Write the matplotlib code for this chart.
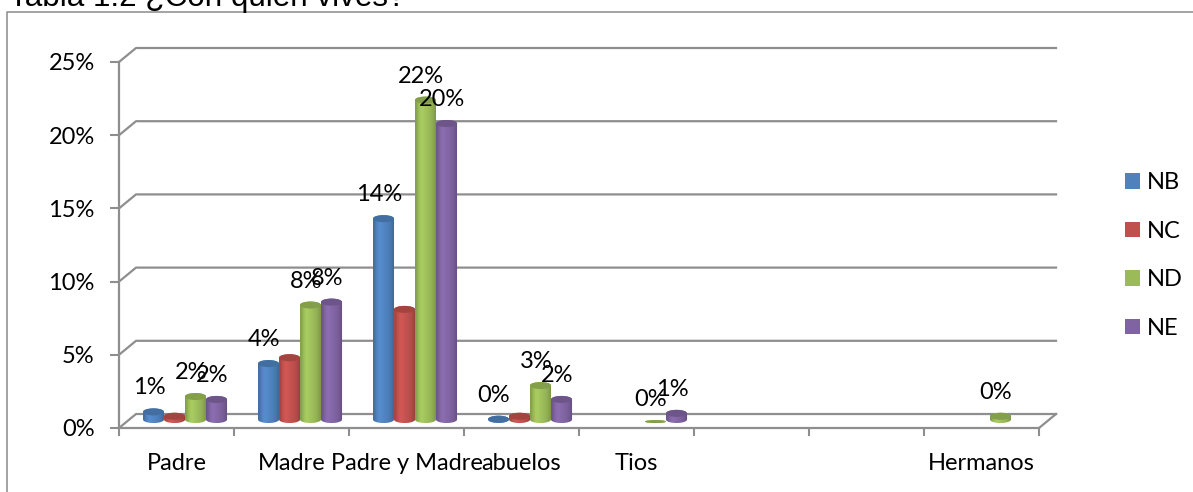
import numpy as np
import matplotlib
matplotlib.use('Agg')
import matplotlib.pyplot as plt
from matplotlib.patches import Ellipse, Patch, Polygon
from matplotlib.colors import to_rgb
from matplotlib.lines import Line2D

categories = ['Padre', 'Madre', 'Padre y Madre', 'abuelos', 'Tios', '', '', 'Hermanos']
series = ['NB', 'NC', 'ND', 'NE']
nb = [1.0, 4.3, 14.2, 0.5, 0, 0, 0, 0]
nc = [0.7, 4.7, 8.0, 0.7, 0, 0, 0, 0]
nd = [2.05, 8.3, 22.3, 2.8, 0.2, 0, 0, 0.7]
ne = [1.85, 8.5, 20.7, 1.85, 0.9, 0, 0, 0]
nb_labels = ['1%', '4%', '14%', '0%', '', '', '', '']
nc_labels = ['', '', '', '', '', '', '', '']
nd_labels = ['2%', '8%', '22%', '3%', '0%', '', '', '0%']
ne_labels = ['2%', '8%', '20%', '2%', '1%', '', '', '']
colors = ['#4F81BD', '#C0504D', '#9BBB59', '#8064A2']
yticks = [0, 5, 10, 15, 20, 25]

W, H = 1193, 492
FS = 17
plt.rcParams['font.family'] = ['Lato', 'DejaVu Sans']
GREY = '#8E8E8E'

fig = plt.figure(figsize=(W / 100, H / 100), dpi=100)
ax = fig.add_axes([119 / W, (H - 428) / H, 920 / W, 366 / H])
ax.patch.set_visible(False)

# depth of the fake 3d box, in data units
depth_x, depth_y = 0.148, 0.956
bar_w = 0.183
base = 0.34
ell = 0.24


def draw_cylinder(x, v, color):
    hh = min(ell, v / 2)
    y0 = base + hh
    y1 = base + v - hh
    t = np.linspace(np.pi, 2 * np.pi, 30)
    xs = x + bar_w / 2 * np.cos(t)
    low = y0 + hh * np.sin(t)
    high = y1 - hh * np.sin(t)
    outline = np.vstack([np.column_stack([xs, low]), np.column_stack([xs[::-1], high[::-1]])])
    poly = Polygon(outline, closed=True, transform=ax.transData, fc='none', ec='none')
    ax.add_patch(poly)
    shade = np.array([0.86, 0.98, 1.07, 1.09, 1.05, 1.02, 0.99, 0.95, 0.89, 0.8])
    rgb = np.clip(np.array(to_rgb(color))[None, None, :] * shade[None, :, None], 0, 1)
    im = ax.imshow(rgb, extent=(x - bar_w / 2, x + bar_w / 2, base, base + v), aspect='auto',
                   interpolation='bilinear', zorder=3)
    im.set_clip_path(poly)
    top = np.clip(np.array(to_rgb(color)) * 0.85, 0, 1)
    ax.add_patch(Ellipse((x, y1), bar_w, 2 * hh, fc=top, ec='none', zorder=4))


# back wall lines
for v in yticks:
    ax.add_line(Line2D([0, depth_x, 8 + depth_x], [v, v + depth_y, v + depth_y], color=GREY, lw=1.6,
                       clip_on=False, zorder=1))
ax.add_line(Line2D([8, 8 + depth_x], [0, depth_y], color=GREY, lw=1.6, clip_on=False, zorder=1))

values = [nb, nc, nd, ne]
labels = [nb_labels, nc_labels, nd_labels, ne_labels]
offsets = [-0.274, -0.091, 0.091, 0.274]
for vals, labs, col, off in zip(values, labels, colors, offsets):
    for i, (v, lab) in enumerate(zip(vals, labs)):
        x = i + 0.5 + depth_x / 2 + off
        if v > 0:
            draw_cylinder(x, v, col)
        if lab:
            ax.text(x - 0.04, base + v + 1.4, lab, ha='center', va='center', fontsize=FS,
                    color='black', zorder=6)

ax.set_xlim(0, 8)
ax.set_ylim(0, 25)
ax.set_yticks(yticks)
ax.set_yticklabels([f'{v}%' for v in yticks])
ax.set_xticks(range(9))
ax.set_xticklabels([])
ax.set_xticks(np.arange(8) + 0.5, labels=categories, minor=True)
ax.tick_params(axis='y', length=6.5, width=1.5, color=GREY, pad=11, labelsize=FS)
ax.tick_params(axis='x', which='major', length=6, width=1.5, color=GREY)
ax.tick_params(axis='x', which='minor', length=0, pad=18, labelsize=FS)
for s in ['top', 'right']:
    ax.spines[s].set_visible(False)
for s in ['left', 'bottom']:
    ax.spines[s].set_color(GREY)
    ax.spines[s].set_linewidth(1.6)

handles = [Patch(fc=c, ec='none', label=s) for c, s in zip(colors, series)]
fig.legend(handles=handles, loc='upper left', bbox_to_anchor=(1115.6 / W, 1 - 163 / H), frameon=False,
           fontsize=FS, handlelength=0.64, handleheight=0.64, handletextpad=0.3, labelspacing=1.16,
           borderpad=0.4, borderaxespad=0)

# outer frame, runs off the right and bottom of the picture
fig.add_artist(Line2D([7.5 / W, 7.5 / W, 1], [0, 1 - 12 / H, 1 - 12 / H], color='#8A8A8A', lw=1.1))
fig.text(9 / W, 1 - 6 / H, 'Tabla 1.2 ¿Con quién vives?', family='Liberation Sans', fontsize=22.6,
         ha='left', va='baseline', color='black')

fig.savefig('out.png', dpi=100)
